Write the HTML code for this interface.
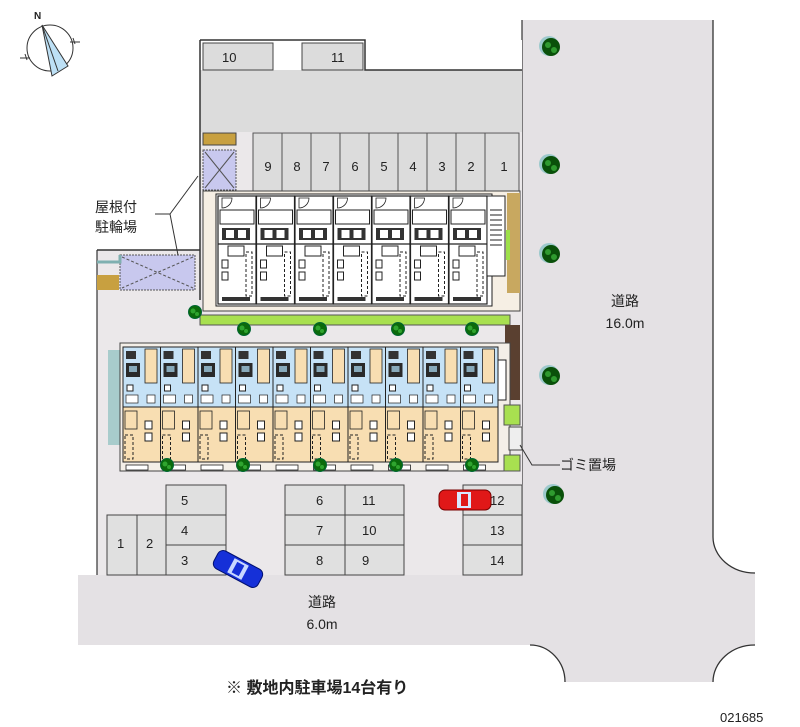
<!DOCTYPE html>
<html><head><meta charset="utf-8"><style>
html,body{margin:0;padding:0;background:#fff;}
svg{display:block;}
text{font-family:"Liberation Sans","Noto Sans CJK JP",sans-serif;fill:#222;}
</style></head><body>
<svg width="800" height="727" viewBox="0 0 800 727" xmlns="http://www.w3.org/2000/svg">
<defs>
<g id="u1">
  <rect x="0" y="0" width="38" height="108" fill="#fff" stroke="#222" stroke-width="1.2"/>
  <rect x="2" y="14" width="34" height="14" fill="none" stroke="#222" stroke-width="1"/>
  <rect x="4" y="32" width="28" height="12" fill="#333"/>
  <rect x="8" y="34" width="8" height="8" fill="#fff"/>
  <rect x="20" y="34" width="8" height="8" fill="#fff"/>
  <line x1="0" y1="48" x2="38" y2="48" stroke="#222" stroke-width="1.2"/>
  <rect x="10" y="50" width="16" height="10" fill="none" stroke="#222"/>
  <rect x="4" y="64" width="6" height="8" fill="none" stroke="#222"/>
  <rect x="4" y="76" width="6" height="8" fill="none" stroke="#222"/>
  <rect x="28" y="56" width="6" height="44" fill="none" stroke="#222" stroke-dasharray="3 2"/>
  <path d="M4 2 v10 a10 10 0 0 0 10 -10 z" fill="none" stroke="#222" stroke-width="0.8"/>
  <rect x="4" y="101" width="28" height="4" fill="#333"/>
</g>
<g id="u2">
  <rect x="0" y="0" width="37.5" height="60" fill="#c6e2f6" stroke="#222" stroke-width="1"/>
  <rect x="0" y="60" width="37.5" height="55" fill="#f8deb2" stroke="#222" stroke-width="1"/>
  <rect x="3" y="4" width="10" height="8" fill="#333"/>
  <rect x="3" y="16" width="14" height="14" fill="#2a2a2a"/>
  <rect x="6" y="19" width="8" height="6" fill="#8ab"/>
  <rect x="22" y="2" width="12" height="34" fill="#f8deb2" stroke="#222" stroke-width="0.8"/>
  <rect x="4" y="38" width="6" height="6" fill="#fff" stroke="#222"/>
  <rect x="3" y="48" width="12" height="8" fill="#fff" stroke="#222" stroke-width="0.7"/>
  <rect x="24" y="48" width="8" height="8" fill="#fff" stroke="#222" stroke-width="0.7"/>
  <rect x="2" y="64" width="12" height="18" fill="none" stroke="#222" stroke-width="0.8"/>
  <rect x="2" y="88" width="8" height="24" fill="none" stroke="#222" stroke-dasharray="3 2"/>
  <rect x="22" y="74" width="7" height="8" fill="#fff" stroke="#222"/>
  <rect x="22" y="86" width="7" height="8" fill="#fff" stroke="#222"/>
  <rect x="3" y="118" width="22" height="5" fill="#fff" stroke="#222" stroke-width="0.8"/>
</g>
<g id="tree">
  <circle cx="0" cy="0" r="6.5" fill="#0b6a0b" stroke="#063" stroke-width="1"/>
  <circle cx="-2" cy="-1" r="2.5" fill="#2fa52f"/>
  <circle cx="2" cy="2" r="2" fill="#2fa52f"/>
</g>
<g id="bigtree">
  <circle cx="-2" cy="-1" r="10" fill="#9cc9cc"/>
  <circle cx="0" cy="0" r="9" fill="#0a500a"/>
  <circle cx="-3" cy="-2" r="3" fill="#2f9a2f"/>
  <circle cx="3" cy="3" r="3" fill="#2f9a2f"/>
</g>
</defs>

<!-- roads -->
<path d="M522 20 H713 V537 A42 36 0 0 0 755 573 V645 A42 37 0 0 0 713 682 H565 A35 37 0 0 0 530 645 H78 V575 H522 Z" fill="#e4e1e4"/>
<path d="M713 20 V537 A42 36 0 0 0 755 573 M755 645 A42 37 0 0 0 713 682 M565 682 A35 37 0 0 0 530 645" fill="none" stroke="#333" stroke-width="1.3"/>
<line x1="522" y1="20" x2="522" y2="575" stroke="#333" stroke-width="1.2"/>

<!-- site ground -->
<path d="M200 40 H522 V575 H97 V250 H200 Z" fill="#ebe8ea"/>
<rect x="200" y="40" width="322" height="92" fill="#fff"/>
<rect x="200" y="70" width="322" height="62" fill="#dcdcdc"/>
<path d="M200 40 V300" stroke="#333" stroke-width="1.5" fill="none"/>
<path d="M200 40 H365 V70 H522" stroke="#333" stroke-width="1.5" fill="none"/>
<path d="M97 250 H200" stroke="#333" stroke-width="1.5"/>
<line x1="97" y1="250" x2="97" y2="575" stroke="#333" stroke-width="1.2"/>
<rect x="203" y="43" width="70" height="27" fill="#dcdcdc" stroke="#444"/>
<rect x="302" y="43" width="61" height="27" fill="#dcdcdc" stroke="#444"/>
<text x="222" y="62" font-size="13">10</text>
<text x="331" y="62" font-size="13">11</text>

<!-- slots 1-9 -->
<g fill="#dcdcdc" stroke="#555" stroke-width="1">
<rect x="253" y="133" width="29" height="58"/><rect x="282" y="133" width="29" height="58"/><rect x="311" y="133" width="29" height="58"/>
<rect x="340" y="133" width="29" height="58"/><rect x="369" y="133" width="29" height="58"/><rect x="398" y="133" width="29" height="58"/>
<rect x="427" y="133" width="29" height="58"/><rect x="456" y="133" width="29" height="58"/><rect x="485" y="133" width="34" height="58"/>
</g>
<g font-size="13" text-anchor="middle">
<text x="268" y="171">9</text><text x="297" y="171">8</text><text x="326" y="171">7</text><text x="355" y="171">6</text><text x="384" y="171">5</text><text x="413" y="171">4</text><text x="442" y="171">3</text><text x="471" y="171">2</text><text x="504" y="171">1</text>
</g>

<!-- bike parking -->
<rect x="203" y="133" width="33" height="12" fill="#c8a040" stroke="#444"/>
<rect x="203" y="150" width="33" height="40" fill="#c8c8ee" stroke="#555" stroke-dasharray="2 1"/>
<path d="M205 152 L234 188 M234 152 L205 188" stroke="#555"/>
<rect x="120" y="255" width="75" height="35" fill="#c8c8ee" stroke="#555" stroke-dasharray="2 1"/>
<path d="M122 257 L193 288 M193 257 L122 288" stroke="#555" stroke-dasharray="3 2"/>
<rect x="97" y="275" width="22" height="15" fill="#c8a040"/>
<path d="M97 262 H120 V255" fill="none" stroke="#7fb0b0" stroke-width="3"/>

<!-- building 1 -->
<rect x="203" y="191" width="317" height="120" fill="#f6efe4" stroke="#444"/>
<rect x="216" y="194" width="276" height="112" fill="#fff" stroke="#222"/>
<use href="#u1" x="218" y="196"/><use href="#u1" x="256.5" y="196"/><use href="#u1" x="295" y="196"/><use href="#u1" x="333.5" y="196"/><use href="#u1" x="372" y="196"/><use href="#u1" x="410.5" y="196"/><use href="#u1" x="449" y="196"/>
<rect x="487" y="196" width="18" height="80" fill="#fff" stroke="#222"/>
<path d="M490 210 h12 M490 215 h12 M490 220 h12 M490 225 h12 M490 230 h12 M490 235 h12 M490 240 h12 M490 245 h12" stroke="#222"/>
<rect x="507" y="193" width="13" height="100" fill="#c8a860"/>
<rect x="506" y="230" width="4" height="30" fill="#9ee04a"/>
<!-- hedge -->
<rect x="200" y="315" width="310" height="10" fill="#a8e050" stroke="#555"/>
<use href="#tree" x="195" y="312"/><use href="#tree" x="244" y="329"/><use href="#tree" x="320" y="329"/><use href="#tree" x="398" y="329"/><use href="#tree" x="472" y="329"/>
<rect x="505" y="325" width="15" height="75" fill="#5a4030"/>

<!-- building 2 -->
<rect x="108" y="350" width="14" height="95" fill="#a8cccc"/>
<rect x="120" y="343" width="390" height="128" fill="#f4efe8" stroke="#444"/>
<use href="#u2" x="123" y="347"/><use href="#u2" x="160.5" y="347"/><use href="#u2" x="198" y="347"/><use href="#u2" x="235.5" y="347"/><use href="#u2" x="273" y="347"/><use href="#u2" x="310.5" y="347"/><use href="#u2" x="348" y="347"/><use href="#u2" x="385.5" y="347"/><use href="#u2" x="423" y="347"/><use href="#u2" x="460.5" y="347"/>
<rect x="498" y="360" width="8" height="40" fill="#fff" stroke="#222"/>
<use href="#tree" x="167" y="465"/><use href="#tree" x="243" y="465"/><use href="#tree" x="320" y="465"/><use href="#tree" x="396" y="465"/><use href="#tree" x="472" y="465"/>
<!-- garbage -->
<rect x="504" y="405" width="16" height="20" fill="#a8e050" stroke="#555"/>
<rect x="509" y="427" width="13" height="23" fill="#eee" stroke="#444"/>
<rect x="504" y="455" width="16" height="16" fill="#a8e050" stroke="#555"/>
<path d="M520 445 L532 465 H560" fill="none" stroke="#333"/>
<text x="560" y="470" font-size="14">ゴミ置場</text>

<!-- lower parking -->
<g fill="#e0e0e0" stroke="#444" stroke-width="1">
<rect x="166" y="485" width="60" height="30"/><rect x="166" y="515" width="60" height="30"/><rect x="166" y="545" width="60" height="30"/>
<rect x="107" y="515" width="30" height="60"/><rect x="137" y="515" width="29" height="60"/>
<rect x="285" y="485" width="60" height="30"/><rect x="285" y="515" width="60" height="30"/><rect x="285" y="545" width="60" height="30"/>
<rect x="345" y="485" width="59" height="30"/><rect x="345" y="515" width="59" height="30"/><rect x="345" y="545" width="59" height="30"/>
<rect x="463" y="485" width="59" height="30"/><rect x="463" y="515" width="59" height="30"/><rect x="463" y="545" width="59" height="30"/>
</g>
<g font-size="13">
<text x="181" y="505">5</text><text x="181" y="535">4</text><text x="181" y="565">3</text>
<text x="117" y="548">1</text><text x="146" y="548">2</text>
<text x="316" y="505">6</text><text x="316" y="535">7</text><text x="316" y="565">8</text>
<text x="362" y="505">11</text><text x="362" y="535">10</text><text x="362" y="565">9</text>
<text x="490" y="505">12</text><text x="490" y="535">13</text><text x="490" y="565">14</text>
</g>
<!-- cars -->
<g transform="translate(238,569) rotate(28)">
<rect x="-25" y="-10" width="50" height="20" rx="6" fill="#1530d8" stroke="#001070"/>
<rect x="-8" y="-8" width="16" height="16" fill="#c8d8ff"/>
<rect x="-4" y="-6" width="8" height="12" fill="#1530d8"/>
</g>
<g transform="translate(465,500)">
<rect x="-26" y="-10" width="52" height="20" rx="6" fill="#e01818" stroke="#700"/>
<rect x="-8" y="-8" width="14" height="16" fill="#d8e8ff"/>
<rect x="-4" y="-6" width="7" height="12" fill="#e01818"/>
</g>
<use href="#bigtree" x="551" y="47"/><use href="#bigtree" x="551" y="165"/><use href="#bigtree" x="551" y="254"/><use href="#bigtree" x="551" y="376"/><use href="#bigtree" x="555" y="495"/>

<!-- labels -->
<path d="M198 176 L170 214 H155 M170 214 L178 255" fill="none" stroke="#333"/>
<text x="95" y="212" font-size="14">屋根付</text>
<text x="95" y="232" font-size="14">駐輪場</text>
<text x="625" y="306" font-size="14" text-anchor="middle">道路</text>
<text x="625" y="328" font-size="14" text-anchor="middle">16.0m</text>
<text x="322" y="607" font-size="14" text-anchor="middle">道路</text>
<text x="322" y="629" font-size="14" text-anchor="middle">6.0m</text>
<text x="226" y="693" font-size="16" font-weight="bold">※ 敷地内駐車場14台有り</text>
<text x="720" y="722" font-size="13">021685</text>

<!-- compass -->
<g transform="translate(50,48)">
<circle cx="0" cy="0" r="23" fill="none" stroke="#333" stroke-width="1"/>
<path d="M-8 -23 L2 28 L18 18 Z" fill="#bde0f5" stroke="#333"/>
<path d="M-8 -23 L8 23" stroke="#333"/>
<path d="M-30 10 h10 M20 -6 h10 M-25 6 l2 6 M23 -10 l2 6" stroke="#333"/>
<text x="-16" y="-29" font-size="10" font-weight="bold">N</text>
</g>
</svg>
</body></html>
